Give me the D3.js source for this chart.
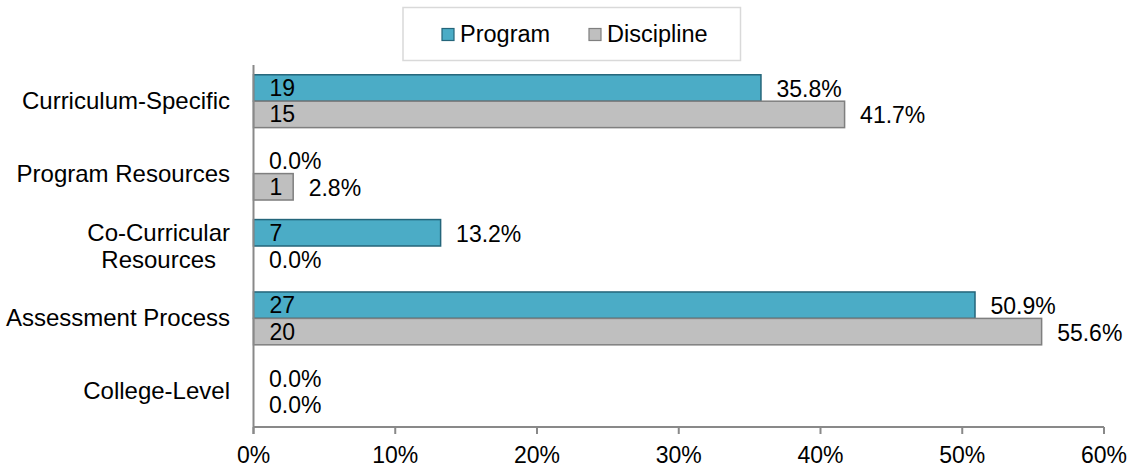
<!DOCTYPE html>
<html lang="en">
<head>
<meta charset="UTF-8">
<title>Program vs Discipline</title>
<script src="https://d3js.org/d3.v7.min.js"></script>
<style>
  body { margin: 0; background: #fff; }
  svg text { font-family: Arial, "Liberation Sans", sans-serif; fill: #000; }
</style>
</head>
<body>
<svg id="chart" width="1132" height="471"></svg>
<script>
  const categories = ["Curriculum-Specific", "Program Resources", "Co-Curricular\nResources", "Assessment Process", "College-Level"];
  const series = ["Program", "Discipline"];
  const programCounts = [19, 0, 7, 27, 0];
  const programPct = [35.8, 0.0, 13.2, 50.9, 0.0];
  const disciplineCounts = [15, 1, 0, 20, 0];
  const disciplinePct = [41.7, 2.8, 0.0, 55.6, 0.0];
  const xTicks = [0, 10, 20, 30, 40, 50, 60];

  const colors = { Program: "#4BACC6", Discipline: "#BFBFBF" };
  const strokes = { Program: "#24657A", Discipline: "#7F7F7F" };
  const fs = 23;

  const svg = d3.select("#chart");
  const plotLeft = 253.5, plotRight = 1104, plotTop = 65, plotBottom = 427;

  const x = d3.scaleLinear().domain([0, 60]).range([plotLeft, plotRight]);
  const y = d3.scaleBand().domain(categories).range([plotTop, plotBottom]).paddingInner(0.27).paddingOuter(0.135);
  const ySub = d3.scaleBand().domain(series).range([0, y.bandwidth()]);

  const rows = categories.map((c, i) => ({
    cat: c,
    vals: [
      { s: "Program", n: programCounts[i], p: programPct[i] },
      { s: "Discipline", n: disciplineCounts[i], p: disciplinePct[i] }
    ]
  }));

  // bars
  const g = svg.selectAll(".cat").data(rows).enter().append("g")
    .attr("transform", d => `translate(0,${y(d.cat)})`);

  g.selectAll("rect").data(d => d.vals.filter(v => v.p > 0)).enter().append("rect")
    .attr("x", x(0))
    .attr("y", d => ySub(d.s))
    .attr("width", d => x(d.p) - x(0))
    .attr("height", ySub.bandwidth())
    .attr("fill", d => colors[d.s])
    .attr("stroke", d => strokes[d.s])
    .attr("stroke-width", 1.5);

  g.selectAll(".cnt").data(d => d.vals.filter(v => v.n > 0)).enter().append("text")
    .attr("x", x(0) + 16)
    .attr("y", d => ySub(d.s) + ySub.bandwidth() / 2 + 8)
    .attr("font-size", fs)
    .text(d => d.n);

  g.selectAll(".pct").data(d => d.vals).enter().append("text")
    .attr("x", d => x(d.p) + 15.5)
    .attr("y", d => ySub(d.s) + ySub.bandwidth() / 2 + 9)
    .attr("font-size", fs)
    .text(d => d.p.toFixed(1) + "%");

  // category labels
  categories.forEach(c => {
    const lines = c.split("\n");
    const t = svg.append("text").attr("font-size", 24).attr("text-anchor", "middle");
    const cy = y(c) + y.bandwidth() / 2;
    lines.forEach((l, i) => {
      t.append("tspan").attr("y", cy + 8 + (i - (lines.length - 1) / 2) * 27).text(l);
    });
    const tspans = t.selectAll("tspan").nodes();
    const w = d3.max(tspans, n => n.getComputedTextLength());
    t.selectAll("tspan").attr("x", 230 - w / 2);
  });

  // axes
  const axisColor = "#898989";
  svg.append("line").attr("x1", x(0)).attr("x2", x(0)).attr("y1", plotTop).attr("y2", plotBottom + 7)
    .attr("stroke", axisColor).attr("stroke-width", 2);
  svg.append("line").attr("x1", x(0)).attr("x2", x(60)).attr("y1", plotBottom).attr("y2", plotBottom)
    .attr("stroke", axisColor).attr("stroke-width", 2);
  svg.selectAll(".tick").data(xTicks).enter().append("line")
    .attr("x1", d => x(d)).attr("x2", d => x(d)).attr("y1", plotBottom).attr("y2", plotBottom + 7)
    .attr("stroke", axisColor).attr("stroke-width", 2);
  svg.selectAll(".tlab").data(xTicks).enter().append("text")
    .attr("x", d => x(d)).attr("y", 463)
    .attr("text-anchor", "middle").attr("font-size", fs)
    .text(d => d + "%");

  // legend
  svg.append("rect").attr("x", 403).attr("y", 7.5).attr("width", 337.5).attr("height", 53)
    .attr("fill", "#fff").attr("stroke", "#D9D9D9").attr("stroke-width", 1.5);
  const legX = [442, 589];
  series.forEach((s, i) => {
    svg.append("rect").attr("x", legX[i]).attr("y", 28.5).attr("width", 12).attr("height", 12)
      .attr("fill", colors[s]).attr("stroke", strokes[s]).attr("stroke-width", 1.2);
    svg.append("text").attr("x", legX[i] + 18).attr("y", 42).attr("font-size", 23.5).text(s);
  });
</script>
</body>
</html>
